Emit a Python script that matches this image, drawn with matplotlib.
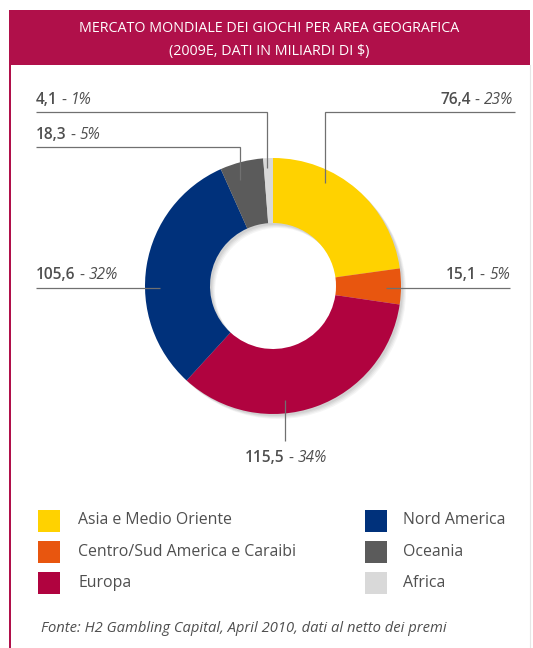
import matplotlib
matplotlib.use('Agg')
import matplotlib.pyplot as plt
from matplotlib.patches import Rectangle, Wedge

W, H = 533, 648

regions = ['Asia e Medio Oriente', 'Centro/Sud America e Caraibi', 'Europa',
           'Nord America', 'Oceania', 'Africa']
values = [76.4, 15.1, 115.5, 105.6, 18.3, 4.1]
value_labels = ['76,4', '15,1', '115,5', '105,6', '18,3', '4,1']
pct_labels = ['23%', '5%', '34%', '32%', '5%', '1%']
colors = ['#FFD200', '#E8560F', '#B0033F', '#00317B', '#5B5B5B', '#D9D9D9']

title_lines = ['MERCATO MONDIALE DEI GIOCHI PER AREA GEOGRAFICA',
               '(2009E, DATI IN MILIARDI DI $)']
source = 'Fonte: H2 Gambling Capital, April 2010, dati al netto dei premi'

CRIMSON = '#B0104A'
TEXT = '#4F4F4F'
LINE = '#707070'
FONT = 'Open Sans'

fig = plt.figure(figsize=(W / 100, H / 100), dpi=100)
ax = fig.add_axes([0, 0, 1, 1])


def Y(y):
    # work in top-down pixel coordinates
    return H - y


# donut with a soft drop shadow
cx, cy, r_out, r_in = 273, 286, 128, 63
for off, a in [(5, 0.05), (4, 0.06), (3, 0.07), (2, 0.08)]:
    ax.add_patch(Wedge((cx + off, Y(cy + off)), r_out, 0, 360,
                       width=r_out - r_in, facecolor='#404040', alpha=a,
                       linewidth=0))
ax.pie(values, colors=colors, startangle=90, counterclock=False,
       radius=r_out, center=(cx, Y(cy)),
       wedgeprops=dict(width=r_out - r_in, linewidth=0))

ax.set_xlim(0, W)
ax.set_ylim(0, H)
ax.set_aspect('auto')
ax.axis('off')

# frame and title bar
ax.add_patch(Rectangle((9, Y(648)), 1.8, 638, facecolor=CRIMSON, linewidth=0))
ax.plot([529.5, 529.5], [Y(65), Y(648)], color='#E6E6E6', lw=0.8)
ax.add_patch(Rectangle((9, Y(65)), 521, 55, facecolor=CRIMSON, linewidth=0))
ax.text(269.5, Y(29), title_lines[0], color='white', fontsize=10.3,
        family=FONT, ha='center', va='center')
ax.text(269.5, Y(51), title_lines[1], color='white', fontsize=10.3,
        family=FONT, ha='center', va='center')

renderer = fig.canvas.get_renderer()


def value_label(i, x, y, align='left'):
    parts = [(value_labels[i], 'semibold', 'normal'),
             (' - ', 'normal', 'normal'),
             (pct_labels[i], 'normal', 'italic')]
    items = []
    for s, w, st in parts:
        t = ax.text(0, Y(y), s, color=TEXT, fontsize=11.2, family=FONT,
                    fontweight=w, fontstyle=st, va='center', ha='left')
        items.append(t)
    widths = []
    for t in items:
        bb = t.get_window_extent(renderer)
        widths.append(bb.width)
    total = sum(widths)
    if align == 'right':
        x0 = x - total
    elif align == 'center':
        x0 = x - total / 2
    else:
        x0 = x
    for t, w in zip(items, widths):
        t.set_x(x0)
        x0 += w


def leader(xs, ys):
    ax.plot(xs, [Y(v) for v in ys], color=LINE, lw=0.9,
            solid_capstyle='butt', solid_joinstyle='miter')


# Asia
value_label(0, 513, 100, 'right')
leader([515, 325, 325], [112, 112, 183])
# Centro/Sud America
value_label(1, 510, 275, 'right')
leader([510, 386], [288, 288])
# Europa
value_label(2, 286, 458, 'center')
leader([285, 285], [400, 441])
# Nord America
value_label(3, 36, 275)
leader([36, 160], [288, 288])
# Oceania
value_label(4, 36, 135)
leader([36, 240, 240], [147, 147, 180])
# Africa
value_label(5, 36, 100)
leader([36, 267, 267], [112, 112, 168])

# legend
rows = [520.5, 552, 583]
for i, name in enumerate(regions):
    col, row = divmod(i, 3)
    sx = 38 if col == 0 else 365
    tx = 78 if col == 0 else 403
    ax.add_patch(Rectangle((sx, Y(rows[row] + 11)), 22, 22,
                           facecolor=colors[i], linewidth=0))
    ax.text(tx, Y(rows[row]), name, color=TEXT, fontsize=11.4, family=FONT,
            va='center', ha='left')

ax.text(41, Y(629), source, color=TEXT, fontsize=10.6, family=FONT,
        fontstyle='italic', va='center', ha='left')

fig.savefig('out.png', dpi=100)
